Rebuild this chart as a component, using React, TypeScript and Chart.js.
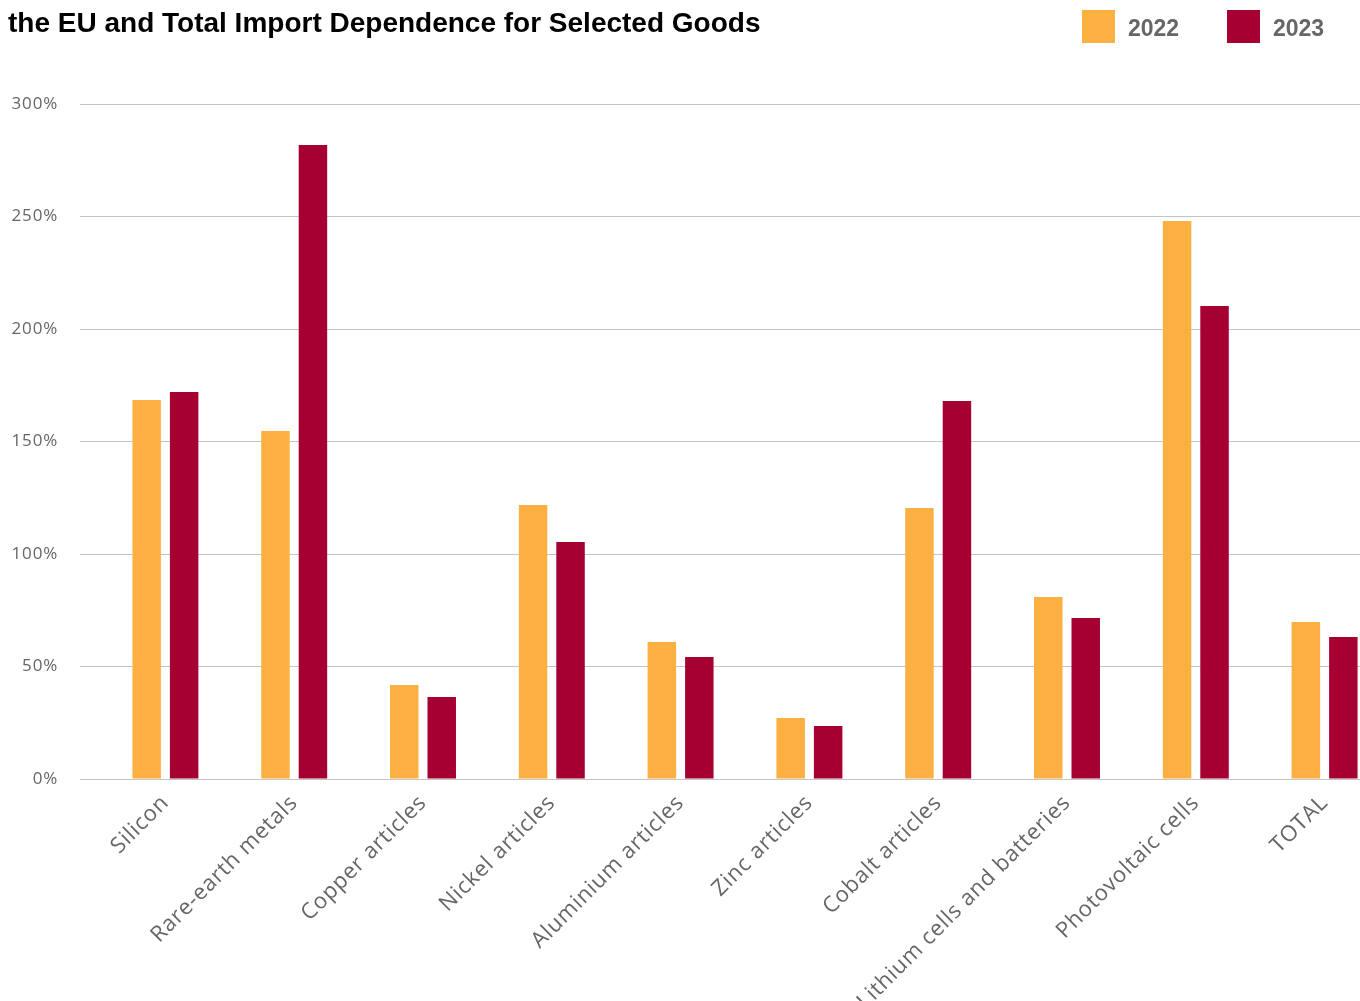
import React, { useEffect, useRef } from "react";
import { Chart, registerables } from "chart.js";

Chart.register(...registerables);

const categories = [
  "Silicon",
  "Rare-earth metals",
  "Copper articles",
  "Nickel articles",
  "Aluminium articles",
  "Zinc articles",
  "Cobalt articles",
  "Lithium cells and batteries",
  "Photovoltaic cells",
  "TOTAL",
];
const values2022 = [168.4, 154.7, 41.8, 121.8, 60.9, 27.1, 120.4, 80.9, 248, 69.8];
const values2023 = [172, 281.8, 36.4, 105.3, 54.2, 23.6, 168, 71.6, 210.2, 63.1];
const seriesLabels = ["2022", "2023"];
const seriesColors = ["#FBB041", "#A60033"];
const yTicks = [0, 50, 100, 150, 200, 250, 300];

const titleText = "the EU and Total Import Dependence for Selected Goods";

const spacingPlugin = {
  id: "letterSpacing",
  beforeDraw(chart: any) {
    chart.ctx.letterSpacing = "0.8px";
  },
};

export default function App() {
  const ref = useRef<HTMLCanvasElement | null>(null);

  useEffect(() => {
    document.body.style.margin = "0";
    if (!ref.current) return;
    const gridColor = "#c4c4c4";
    const chart = new Chart(ref.current, {
      type: "bar",
      data: {
        labels: categories,
        datasets: [
          {
            label: seriesLabels[0],
            data: values2022,
            backgroundColor: seriesColors[0],
            categoryPercentage: 0.582,
            barPercentage: 0.76,
          },
          {
            label: seriesLabels[1],
            data: values2023,
            backgroundColor: seriesColors[1],
            categoryPercentage: 0.582,
            barPercentage: 0.76,
          },
        ],
      },
      plugins: [spacingPlugin],
      options: {
        animation: false,
        responsive: false,
        maintainAspectRatio: false,
        layout: { padding: { top: 104, right: 0, bottom: 0, left: 0 } },
        plugins: {
          legend: { display: false },
          tooltip: { enabled: false },
          title: { display: false },
        },
        scales: {
          x: {
            grid: { display: false, drawTicks: false },
            border: { display: true, color: gridColor, width: 1 },
            ticks: {
              minRotation: 45,
              maxRotation: 45,
              autoSkip: false,
              padding: 11,
              color: "#666666",
              font: { family: "'Open Sans'", size: 22, weight: 500 },
            },
            afterFit: (scale: any) => {
              scale.height = 222;
            },
          },
          y: {
            min: 0,
            max: 300,
            afterBuildTicks: (scale: any) => {
              scale.ticks = yTicks.map((v) => ({ value: v }));
            },
            grid: {
              color: gridColor,
              lineWidth: 1,
              drawTicks: true,
              tickLength: 21,
              tickColor: gridColor,
            },
            border: { display: false },
            ticks: {
              padding: 22,
              color: "#666666",
              font: { family: "'Open Sans'", size: 17, weight: 500 },
              callback: (v: any) => `${v}%`,
            },
            afterFit: (scale: any) => {
              scale.width = 101;
            },
          },
        },
      },
    });
    return () => chart.destroy();
  }, []);

  return (
    <div
      style={{
        position: "fixed",
        left: 0,
        top: 0,
        width: 1360,
        height: 1001,
        overflow: "hidden",
        background: "#ffffff",
      }}
    >
      <canvas
        ref={ref}
        width={1389}
        height={1001}
        style={{ position: "absolute", left: 0, top: 0, width: 1389, height: 1001 }}
      />
      <div
        style={{
          position: "absolute",
          left: 8,
          top: 6,
          fontFamily: "'Liberation Sans', Arial, sans-serif",
          fontWeight: 700,
          fontSize: 28,
          color: "#000",
          whiteSpace: "nowrap",
          lineHeight: "34px",
        }}
      >
        {titleText}
      </div>
      {seriesLabels.map((s, i) => (
        <div
          key={s}
          style={{
            position: "absolute",
            left: 1082 + i * 145,
            top: 10,
            display: "flex",
            alignItems: "center",
          }}
        >
          <div style={{ width: 33, height: 33, background: seriesColors[i] }} />
          <span
            style={{
              marginLeft: 13,
              fontFamily: "'Liberation Sans', Arial, sans-serif",
              fontWeight: 700,
              fontSize: 23,
              color: "#666666",
              marginTop: 3,
            }}
          >
            {s}
          </span>
        </div>
      ))}
    </div>
  );
}
